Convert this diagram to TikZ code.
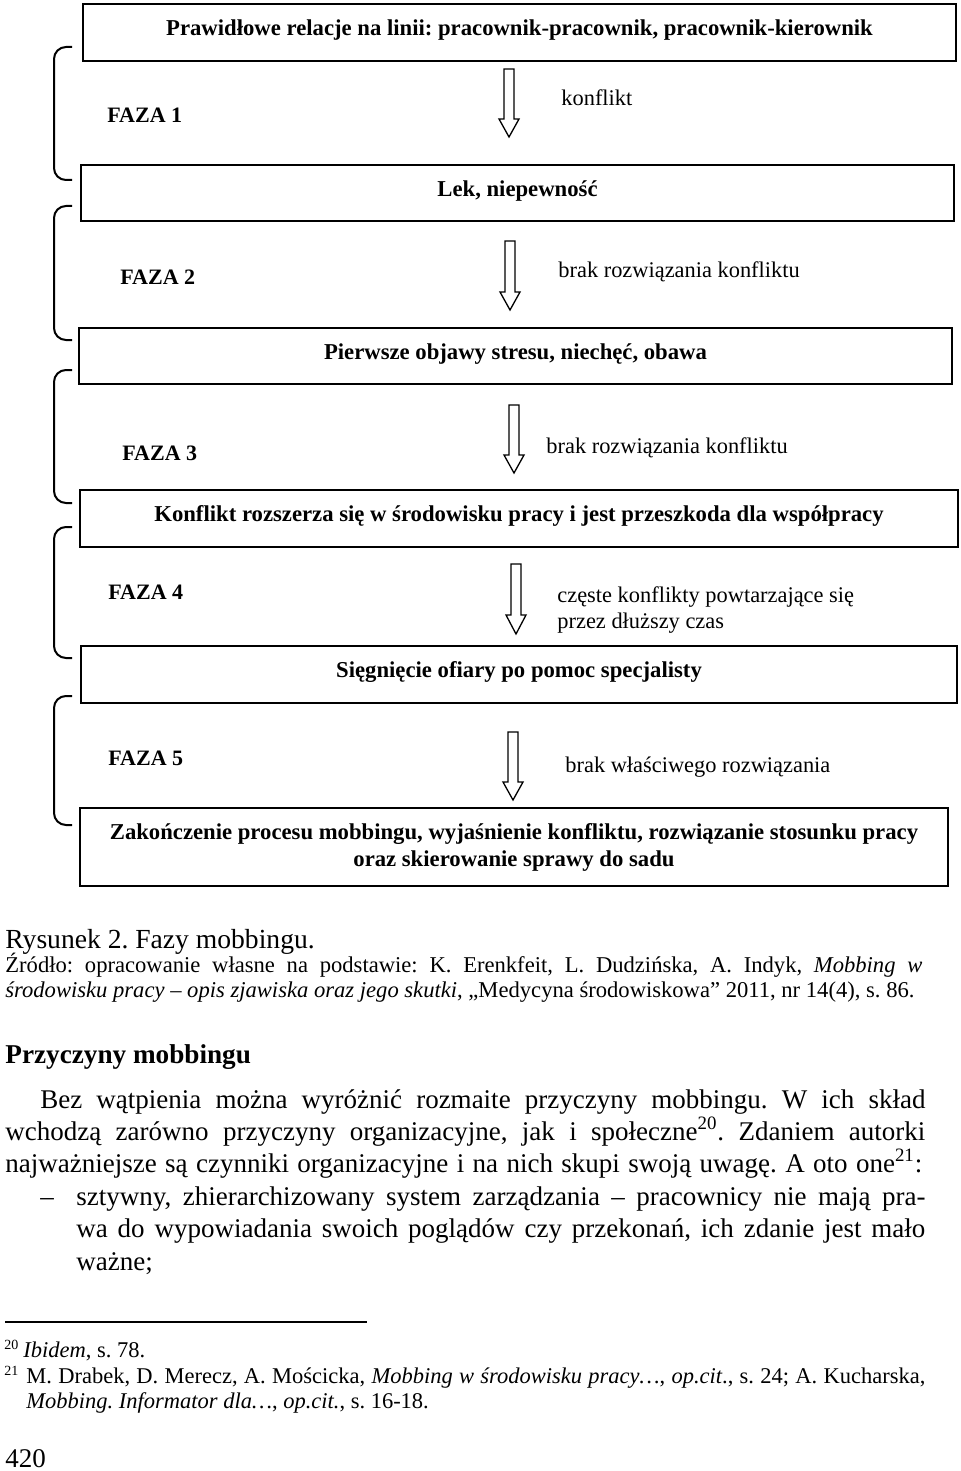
\documentclass[tikz,border=0pt]{standalone}
\usepackage{fontspec}
\setmainfont{Liberation Serif}
\frenchspacing
\tikzset{%
  etap/.style = {rectangle,draw,line width=1pt,align=center,
        font=\fontsize{11.35}{13.5}\selectfont\bfseries},
  wiersz/.style = {text height=0.7em,text depth=0.36em},
  faza/.style = {anchor=west,inner sep=0pt,
        font=\fontsize{11}{13.5}\selectfont\bfseries},
  opis/.style = {anchor=west,inner sep=0pt,align=left,
        font=\fontsize{11.2}{13}\selectfont},
  klamra/.style = {line width=1pt,rounded corners=6pt},
  strzalka/.style = {line width=0.65pt},
  tekst/.style = {anchor=base west,inner sep=0pt,
        font=\fontsize{13.5}{16}\selectfont},
  zrodlo/.style = {anchor=base west,inner sep=0pt,
        font=\fontsize{11.3}{13}\selectfont},
  przypis/.style = {anchor=base west,inner sep=0pt,
        font=\fontsize{11.25}{13}\selectfont},
  numer/.style = {anchor=base west,inner sep=0pt,
        font=\fontsize{7}{8}\selectfont}
}

\begin{document}
\begin{tikzpicture}[x=0.5pt,y=-0.5pt]
\useasboundingbox (0,0) rectangle (960,1471);

% etapy
\node[etap,wiersz,minimum width=436.5pt,minimum height=28.5pt] (relacje) at (519.5,32.5)
    {Prawidłowe relacje na linii: pracownik-pracownik, pracownik-kierownik};
\node[etap,wiersz,minimum width=436.5pt,minimum height=28pt] (lek) at (517.5,193)
    {Lek, niepewność};
\node[etap,wiersz,minimum width=436.5pt,minimum height=28pt] (objawy) at (515.5,356)
    {Pierwsze objawy stresu, niechęć, obawa};
\node[etap,wiersz,minimum width=439pt,minimum height=28.5pt] (rozszerza) at (519,518.5)
    {Konflikt rozszerza się w środowisku pracy i jest przeszkoda dla współpracy};
\node[etap,wiersz,minimum width=438pt,minimum height=28.5pt] (pomoc) at (519,674.5)
    {Sięgnięcie ofiary po pomoc specjalisty};
\node[etap,minimum width=434pt,minimum height=39pt] (koniec) at (514,847)
    {Zakończenie procesu mobbingu, wyjaśnienie konfliktu, rozwiązanie stosunku pracy\\
     oraz skierowanie sprawy do sadu};

% fazy
\node[faza] (faza1) at (107,115) {FAZA 1};
\node[faza] (faza2) at (120,277) {FAZA 2};
\node[faza] (faza3) at (122,453) {FAZA 3};
\node[faza] (faza4) at (108,592) {FAZA 4};
\node[faza] (faza5) at (108,758) {FAZA 5};

\foreach \g/\d in {47/180, 206/340, 370/503, 527/658, 696/825}
    \draw[klamra] (72,\g) -- (54,\g) -- (54,\d) -- (72,\d);

% strzalki
\foreach \s/\g/\h/\d in {509/69/119/137, 510/241/292/310, 514/405/455/473,
                          516/564/615/634, 513/732/782/800}
    \draw[strzalka] (\s-5,\g) -- (\s+5,\g) -- (\s+5,\h) -- (\s+10,\h)
        -- (\s,\d) -- (\s-10,\h) -- (\s-5,\h) -- cycle;

\node[opis] (opis1) at (561,98) {konflikt};
\node[opis] (opis2) at (558,272) {brak rozwiązania konfliktu};
\node[opis] (opis3) at (546,448) {brak rozwiązania konfliktu};
\node[opis] (opis4) at (557,610) {częste konflikty powtarzające się\\przez dłuższy czas};
\node[opis] (opis5) at (565,767) {brak właściwego rozwiązania};

% podpis i tekst strony
\node[tekst,font=\fontsize{13.8}{16}\selectfont] (podpis) at (5,948) {Rysunek 2. Fazy mobbingu.};
\node[zrodlo] (zrodlo1) at (5,972) {\makebox[458.5pt][s]{Źródło: opracowanie własne na podstawie: K. Erenkfeit, L. Dudzińska, A. Indyk, \textit{Mobbing w}}};
\node[zrodlo] (zrodlo2) at (5,997) {\textit{środowisku pracy – opis zjawiska oraz jego skutki}, „Medycyna środowiskowa” 2011, nr 14(4), s. 86.};

\node[tekst,font=\fontsize{13.6}{16}\selectfont\bfseries] (naglowek) at (5,1063) {Przyczyny mobbingu};

\node[tekst] (akapit1) at (40,1108) {\makebox[442.5pt][s]{Bez wątpienia można wyróżnić rozmaite przyczyny mobbingu. W ich skład}};
\node[tekst] (akapit2) at (5,1140) {\makebox[460pt][s]{wchodzą zarówno przyczyny organizacyjne, jak i społeczne\textsuperscript{20}. Zdaniem autorki}};
\node[tekst] (akapit3) at (5,1172) {\makebox[458.5pt][s]{najważniejsze są czynniki organizacyjne i na nich skupi swoją uwagę. A oto one\textsuperscript{21}:}};
\node[tekst] (myslnik) at (40,1205) {–};
\node[tekst] (punkt1) at (76,1205) {\makebox[424.5pt][s]{sztywny, zhierarchizowany system zarządzania – pracownicy nie mają pra-}};
\node[tekst] (punkt2) at (76,1237) {\makebox[424.5pt][s]{wa do wypowiadania swoich poglądów czy przekonań, ich zdanie jest mało}};
\node[tekst] (punkt3) at (76,1270) {ważne;};

% przypisy
\coordinate (kreska1) at (5,1322);
\coordinate (kreska2) at (367,1322);
\draw[line width=0.75pt] (kreska1) -- (kreska2);
\node[numer] (nr20) at (4,1349) {20};
\node[przypis] (przypis20) at (23,1357) {\textit{Ibidem}, s. 78.};
\node[numer] (nr21) at (4,1375) {21};
\node[przypis] (przypis21a) at (26,1383) {\makebox[449.5pt][s]{M. Drabek, D. Merecz, A. Mościcka, \textit{Mobbing w środowisku pracy…}, \textit{op.cit}., s. 24; A. Kucharska,}};
\node[przypis] (przypis21b) at (26,1408) {\textit{Mobbing. Informator dla…}, \textit{op.cit.}, s. 16-18.};

\node[tekst] (strona) at (5,1467) {420};
\end{tikzpicture}
\end{document}
